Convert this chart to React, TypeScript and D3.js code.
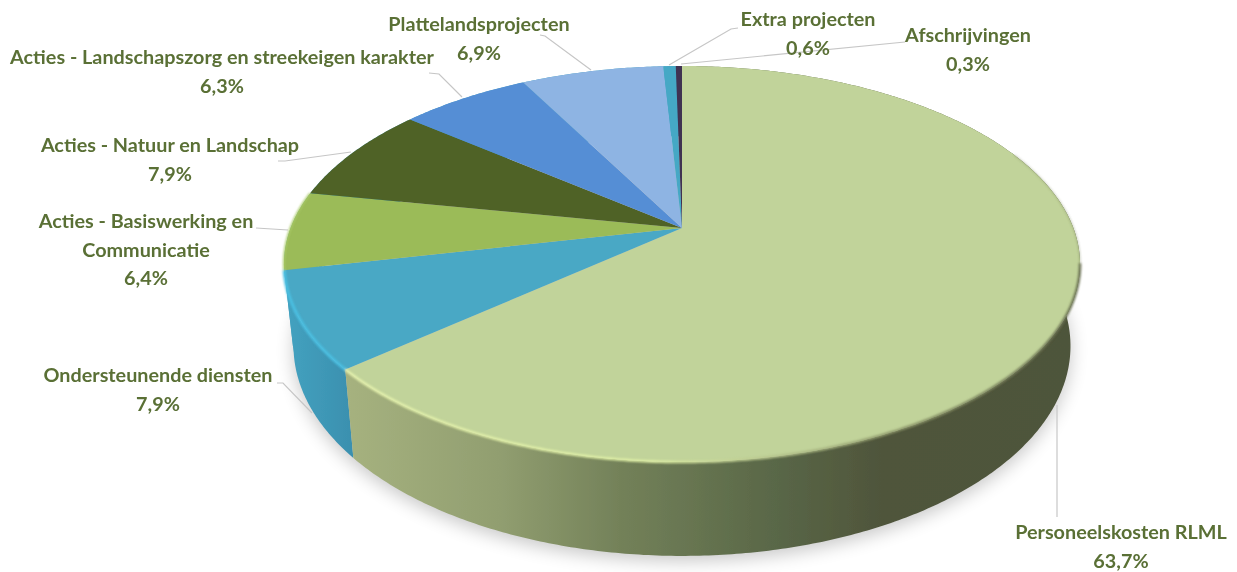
import React from "react";
import * as d3 from "d3";

const CATEGORIES = [
  ["Personeelskosten RLML"],
  ["Ondersteunende diensten"],
  ["Acties - Basiswerking en", "Communicatie"],
  ["Acties - Natuur en Landschap"],
  ["Acties - Landschapszorg en streekeigen karakter"],
  ["Plattelandsprojecten"],
  ["Extra projecten"],
  ["Afschrijvingen"],
];
const VALUES = [63.7, 7.9, 6.4, 7.9, 6.3, 6.9, 0.6, 0.3];
const COLORS = ["#c1d39a", "#49a8c5", "#9bbb59", "#4f6228", "#558ed5", "#8eb4e3", "#45a8c5", "#3f3151"];

// label block: centre x, first baseline
const LABEL_POS: [number, number][] = [
  [1121, 539],
  [158, 382],
  [146, 228],
  [170, 152],
  [222, 64],
  [479, 31],
  [808, 26],
  [968, 42],
];
// leader line: label side points, last point sits on the pie
const LEADERS: [number, number][][] = [
  [[1057, 517], [1057, 405]],
  [[277, 383], [283, 383], [312, 413]],
  [[256, 228], [288, 230]],
  [[278, 161], [285, 161], [351, 152]],
  [[429, 73], [439, 74], [462, 97]],
  [[540, 35], [545, 36], [591, 70]],
  [[738, 28], [731, 29], [669, 65]],
  [[905, 42], [681, 64]],
];

const W = 1237;
const H = 572;
const CX = 682;
const CY = 228;
const R = 391.4;
const K = 191.45;
const P = 0.1818;
// lower disc: narrower, and a bit taller towards the viewer
const WALL_SX = 0.976;
const WALL_SY = 1.06;
const WALL_DY = 66.2;

// pie angle (clockwise from 12 o'clock) onto the tilted disc
const project = (a: number): [number, number] => {
  const x = Math.sin(a);
  const y = -Math.cos(a);
  const w = 1 - P * y;
  return [CX + (R * x) / w, CY + (K * y) / w];
};
const lower = ([x, y]: [number, number]): [number, number] => [
  CX + WALL_SX * (x - CX),
  WALL_SY * y + WALL_DY,
];

const sample = (a0: number, a1: number) => {
  const n = Math.max(2, Math.ceil(Math.abs(a1 - a0) / 0.01));
  return d3.range(n + 1).map((i) => project(a0 + ((a1 - a0) * i) / n));
};

const line = d3.line<[number, number]>();
const pie = d3.pie<number>().sort(null).startAngle(0).endAngle(2 * Math.PI);
const arcs = pie(VALUES);

const topPath = (a0: number, a1: number) => `${line([[CX, CY], ...sample(a0, a1)])}Z`;
const wallPath = (a0: number, a1: number) => {
  const rim = sample(a0, a1);
  return `${line([...rim, ...rim.slice().reverse().map(lower)])}Z`;
};

const App: React.FC = () => {
  const outline = `${line(sample(0, 2 * Math.PI).map(lower))}Z`;
  const [main, support, basis] = arcs;
  return (
    <svg
      width={W}
      height={H}
      viewBox={`0 0 ${W} ${H}`}
      style={{ position: "absolute", left: 0, top: 0, display: "block" }}
    >
      <defs>
        <linearGradient id="wallMain" gradientUnits="userSpaceOnUse" x1={345} x2={1080} y1={0} y2={0}>
          <stop offset="0" stopColor="#a6b27f" />
          <stop offset="0.21" stopColor="#919e70" />
          <stop offset="0.374" stopColor="#738159" />
          <stop offset="0.578" stopColor="#5a6848" />
          <stop offset="0.73" stopColor="#4f553b" />
          <stop offset="1" stopColor="#4e543a" />
        </linearGradient>
        <linearGradient id="wallSupport" gradientUnits="userSpaceOnUse" x1={285} x2={355} y1={0} y2={0}>
          <stop offset="0" stopColor="#44a2c0" />
          <stop offset="1" stopColor="#3a8fae" />
        </linearGradient>
        <linearGradient id="rimMain" gradientUnits="userSpaceOnUse" x1={345} x2={1080} y1={0} y2={0}>
          <stop offset="0" stopColor="#e6f3ae" />
          <stop offset="0.415" stopColor="#dff0a5" />
          <stop offset="0.578" stopColor="#b6c48c" />
          <stop offset="0.755" stopColor="#8a9468" />
          <stop offset="1" stopColor="#6a7152" />
        </linearGradient>
        <filter id="shadow" x="-10%" y="-10%" width="120%" height="120%">
          <feGaussianBlur stdDeviation="9" />
        </filter>
        <filter id="soft" x="-5%" y="-5%" width="110%" height="110%">
          <feGaussianBlur stdDeviation="1.1" />
        </filter>
        <filter id="page" x="0" y="0" width="100%" height="100%">
          <feGaussianBlur stdDeviation="0.5" />
        </filter>
      </defs>

      <g filter="url(#page)">
        <path d={outline} fill="#000" opacity={0.22} filter="url(#shadow)" transform="translate(0,5)" />

        {LEADERS.map((pts, i) => (
          <path key={i} d={line(pts)!} fill="none" stroke="#c6c6c6" strokeWidth={1.2} />
        ))}

        {/* back to front, only the first two walls show */}
        {arcs
          .map((d, i) => ({ d, i }))
          .reverse()
          .map(({ d, i }) => (
            <path
              key={i}
              d={wallPath(d.startAngle, d.endAngle)}
              fill={i === 0 ? "url(#wallMain)" : i === 1 ? "url(#wallSupport)" : "#44a2c0"}
            />
          ))}

        {arcs.map((d, i) => (
          <path key={i} d={topPath(d.startAngle, d.endAngle)} fill={COLORS[i]} />
        ))}

        {/* bevel on the front rim */}
        <g fill="none" filter="url(#soft)">
          <path d={line(sample(1.15, 1.8))!} stroke="#7e8760" strokeWidth={1} opacity={0.7} />
          <path d={line(sample(1.75, main.endAngle))!} stroke="url(#rimMain)" strokeWidth={2.6} />
          <path d={line(sample(support.startAngle, support.endAngle))!} stroke="#4cc0e2" strokeWidth={3} />
          <path d={line(sample(basis.startAngle, basis.endAngle))!} stroke="#a8c964" strokeWidth={2} />
        </g>

        <g fontFamily="Lato" fontWeight={700} fontSize={19.8} fill="#5a7036" textAnchor="middle">
          {CATEGORIES.map((lines, i) => (
            <text key={i} x={LABEL_POS[i][0]} y={LABEL_POS[i][1]}>
              {[...lines, `${d3.format(".1f")(VALUES[i]).replace(".", ",")}%`].map((t, j) => (
                <tspan key={j} x={LABEL_POS[i][0]} dy={j === 0 ? 0 : 28.5}>
                  {t}
                </tspan>
              ))}
            </text>
          ))}
        </g>
      </g>
    </svg>
  );
};

export default App;
